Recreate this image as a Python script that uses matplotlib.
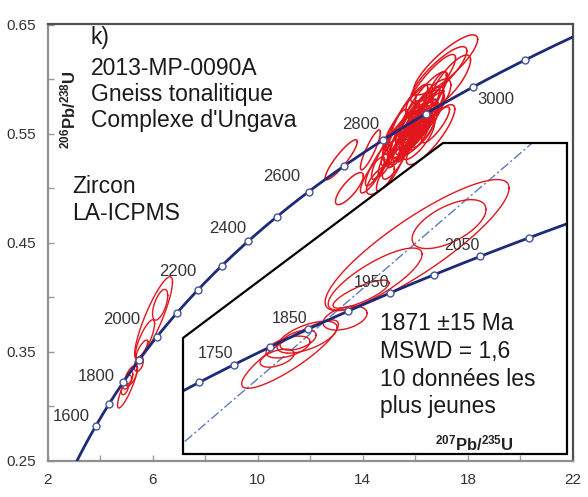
import numpy as np
import matplotlib
matplotlib.use("Agg")
import matplotlib.pyplot as plt
from matplotlib.patches import Polygon

plt.rcParams['font.family'] = ['Liberation Sans', 'DejaVu Sans']
plt.rcParams['mathtext.default'] = 'regular'

# decay constants (per Ma)
L238 = 1.55125e-4
L235 = 9.8485e-4

# 10 youngest analyses: 207Pb/235U, 206Pb/238U, ellipse half-widths, rho
young_x = [6.037, 6.287, 5.709, 5.599, 5.474, 5.044, 5.177, 4.943, 5.028, 5.107]
young_sx = [0.719, 0.289, 0.367, 0.219, 0.172, 0.378, 0.235, 0.133, 0.172, 0.141]
young_y = [0.3809, 0.3930, 0.3613, 0.3526, 0.3388, 0.3180, 0.3278, 0.3157, 0.3221, 0.3261]
young_sy = [0.0378, 0.0141, 0.0179, 0.0081, 0.0069, 0.0197, 0.0092, 0.0052, 0.0063, 0.0058]
young_rho = [0.87, 0.60, 0.80, 0.80, 0.40, 0.87, 0.60, 0.50, 0.50, 0.50]

# older analyses (Archean cluster)
old_x = [17.15, 16.89, 16.58, 17.34, 16.39, 15.89, 16.20, 16.01, 16.39, 15.82,
         16.58, 15.63, 16.12, 15.44, 16.27, 15.89, 16.77, 15.24, 16.01, 15.63,
         16.58, 15.44, 14.86, 14.60, 14.37, 15.05, 14.67, 15.24, 13.49, 13.18,
         14.29, 16.10, 15.95, 16.30, 15.75, 16.45, 15.85, 16.05, 16.20,
         15.30, 15.50, 15.70, 15.90, 16.10, 16.30, 16.50, 15.60, 15.80, 16.00,
         16.20, 16.40, 15.40, 15.70, 16.00, 16.70, 15.10, 14.95,
         15.90, 16.25, 15.55, 16.60]
old_sx = [1.22, 1.07, 0.95, 0.76, 0.84, 0.76, 0.57, 0.53, 0.46, 0.57,
          0.50, 0.50, 0.61, 0.53, 0.46, 0.46, 0.53, 0.46, 1.07, 0.84,
          0.92, 0.57, 0.53, 0.50, 0.46, 0.53, 0.53, 0.50, 0.53, 0.61,
          0.38, 0.35, 0.40, 0.38, 0.33, 0.30, 0.45, 0.30, 0.42,
          0.32, 0.36, 0.30, 0.40, 0.34, 0.38, 0.42, 0.28, 0.33, 0.30,
          0.36, 0.32, 0.35, 0.45, 0.40, 0.48, 0.40, 0.36,
          0.95, 0.85, 0.80, 0.75]
old_y = [0.613, 0.604, 0.595, 0.599, 0.581, 0.572, 0.563, 0.5555, 0.565, 0.549,
         0.572, 0.5445, 0.5445, 0.537, 0.552, 0.561, 0.558, 0.554, 0.558, 0.563,
         0.549, 0.558, 0.531, 0.522, 0.512, 0.517, 0.508, 0.5265, 0.4995, 0.526,
         0.535, 0.560, 0.552, 0.557, 0.556, 0.562, 0.545, 0.548, 0.552,
         0.535, 0.542, 0.550, 0.556, 0.562, 0.568, 0.574, 0.538, 0.545, 0.551,
         0.557, 0.563, 0.548, 0.560, 0.566, 0.585, 0.540, 0.528,
         0.553, 0.566, 0.546, 0.578]
old_sy = [0.0275, 0.0257, 0.0275, 0.0230, 0.0257, 0.0230, 0.0183, 0.0200, 0.0165, 0.0183,
          0.0156, 0.0165, 0.0183, 0.0183, 0.0147, 0.0138, 0.0165, 0.0183, 0.0349, 0.0320,
          0.0275, 0.0275, 0.0230, 0.0200, 0.0165, 0.0200, 0.0138, 0.0183, 0.0147, 0.0183,
          0.0183, 0.0120, 0.0140, 0.0130, 0.0150, 0.0110, 0.0160, 0.0100, 0.0170,
          0.0160, 0.0170, 0.0150, 0.0180, 0.0160, 0.0170, 0.0190, 0.0140, 0.0150, 0.0140,
          0.0160, 0.0150, 0.0170, 0.0200, 0.0190, 0.0220, 0.0190, 0.0170,
          0.0260, 0.0240, 0.0230, 0.0220]
old_rho = [0.85, 0.85, 0.88, 0.80, 0.85, 0.85, 0.85, 0.88, 0.80, 0.85,
           0.80, 0.85, 0.80, 0.85, 0.75, 0.75, 0.85, 0.88, 0.88, 0.90,
           0.85, 0.90, 0.88, 0.88, 0.85, 0.85, 0.70, 0.80, 0.80, 0.90,
           0.88, 0.80, 0.85, 0.75, 0.88, 0.70, 0.85, 0.75, 0.80,
           0.88, 0.85, 0.88, 0.85, 0.88, 0.85, 0.85, 0.88, 0.85, 0.88,
           0.85, 0.88, 0.85, 0.85, 0.88, 0.85, 0.88, 0.85,
           0.70, 0.72, 0.70, 0.75]

# concordia ticks (Ma)
main_marks = np.arange(1600, 3101, 100)
main_labels = [1600, 1800, 2000, 2200, 2400, 2600, 2800, 3000]
main_label_off = [(-24, 10), (-27, 6), (-35, 17), (-20, 18), (-20, 13), (-27, 15), (-22, 16), (23, -12)]
inset_marks = np.arange(1700, 2101, 50)
inset_labels = [1750, 1850, 1950, 2050]

# reference line through the young population
ref_x = [0.0, 7.3]
ref_y = [0.0, 0.4628]

RED = '#e2161d'
NAVY = '#1c2a78'
MARK_EDGE = '#45559a'


def concordia(t):
    t = np.asarray(t, dtype=float)
    return np.expm1(L235 * t), np.expm1(L238 * t)


def ellipse(x, sx, y, sy, rho, n=120):
    t = np.linspace(0, 2 * np.pi, n)
    ex = x + sx * np.cos(t)
    ey = y + sy * (rho * np.cos(t) + np.sqrt(1 - rho ** 2) * np.sin(t))
    return ex, ey


def draw_curve(ax, t0, t1, marks):
    cx, cy = concordia(np.linspace(t0, t1, 400))
    line, = ax.plot(cx, cy, color=NAVY, lw=2, zorder=3)
    mx, my = concordia(marks)
    pts, = ax.plot(mx, my, 'o', ms=5, mfc='white', mec=MARK_EDGE, mew=1, zorder=4)
    return [line, pts]


fig = plt.figure(figsize=(5.88, 4.97), dpi=100)
W, H = 588, 497
ax = fig.add_axes([47.5 / W, 1 - 460.7 / H, 525.5 / W, 436.2 / H])
ax.set_xlim(2, 22)
ax.set_ylim(0.25, 0.65)

for i in range(len(old_x)):
    ex, ey = ellipse(old_x[i], old_sx[i], old_y[i], old_sy[i], old_rho[i])
    ax.plot(ex, ey, color=RED, lw=1.1, zorder=2)
for i in range(len(young_x)):
    ex, ey = ellipse(young_x[i], young_sx[i], young_y[i], young_sy[i], young_rho[i])
    ax.plot(ex, ey, color=RED, lw=1.0, zorder=2)

draw_curve(ax, 1400, 3260, main_marks)
lx, ly = concordia(main_labels)
for age, x, y, off in zip(main_labels, lx, ly, main_label_off):
    ax.annotate(str(age), (x, y), xytext=off, textcoords='offset pixels',
                ha='center', va='center', fontsize=12, color='#333333', zorder=5)

ax.set_xticks(np.arange(2, 23, 4))
ax.set_xticks(np.arange(4, 21, 4), minor=True)
ax.set_yticks(np.arange(0.25, 0.66, 0.1))
ax.set_yticks(np.arange(0.30, 0.61, 0.1), minor=True)
ax.set_yticklabels([f"{v:.2f}" for v in np.arange(0.25, 0.66, 0.1)])
ax.tick_params(which='both', direction='in', length=4, width=1, color='#999999',
               labelsize=11, labelcolor='#333333')
ax.tick_params(axis='y', pad=8)
ax.tick_params(axis='x', pad=9)
for side in ['left', 'bottom']:
    ax.spines[side].set_color('#8f8f8f')
    ax.spines[side].set_linewidth(1.6)
for side in ['top', 'right']:
    ax.spines[side].set_color('#505050')
    ax.spines[side].set_linewidth(1.6)

# inset with the young population
ax2 = fig.add_axes([183 / W, 1 - 454 / H, 384 / W, 311 / H])
ax2.set_xlim(4.207, 7.209)
ax2.set_ylim(0.2604, 0.4398)
ax2.axis('off')
frame = [(0, 0), (0, 0.373), (0.677, 1), (1, 1), (1, 0)]
bg = Polygon(frame, closed=True, transform=ax2.transAxes, facecolor='white',
             edgecolor='none', zorder=0, clip_on=False)
ax2.add_patch(bg)

artists = []
artists += ax2.plot(ref_x, ref_y, color='#5c7cc0', lw=1, ls=(0, (7, 2, 1.5, 2)), zorder=2)
for i in range(len(young_x)):
    ex, ey = ellipse(young_x[i], young_sx[i], young_y[i], young_sy[i], young_rho[i])
    artists += ax2.plot(ex, ey, color=RED, lw=1.0, zorder=2)
artists += draw_curve(ax2, 1600, 2250, inset_marks)
for a in artists:
    a.set_clip_path(bg)

ix, iy = concordia(inset_labels)
for age, x, y in zip(inset_labels, ix, iy):
    ax2.annotate(str(age), (x, y), xytext=(-18, 11), textcoords='offset pixels',
                 ha='center', va='center', fontsize=11.5, color='#333333', zorder=5)

edge = Polygon(frame, closed=True, transform=ax2.transAxes, facecolor='none',
               edgecolor='black', lw=1.6, zorder=6, clip_on=False)
ax2.add_patch(edge)

fig.text(474 / W, 1 - 450 / H, '$^{207}$Pb/$^{235}$U', ha='center', va='baseline',
         fontsize=12, fontweight='bold', color='#222222')
fig.text(68 / W, 1 - 110 / H, '$^{206}$Pb/$^{238}$U', ha='center', va='center',
         rotation=90, fontsize=12, fontweight='bold', color='#222222')

big = dict(fontsize=16.5, color='#1a1a1a', va='baseline', ha='left')
for txt, x, y in [("k)", 91, 44), ("2013-MP-0090A", 91, 75),
                  ("Gneiss tonalitique", 91, 101), ("Complexe d'Ungava", 91, 127),
                  ("Zircon", 72, 193), ("LA-ICPMS", 72, 220),
                  ("1871 \u00b115 Ma", 380, 330), ("MSWD = 1,6", 380, 358),
                  ("10 donn\u00e9es les", 380, 386), ("plus jeunes", 380, 413)]:
    fig.text(x / W, 1 - y / H, txt, **big)

fig.savefig("out.png", dpi=100)
